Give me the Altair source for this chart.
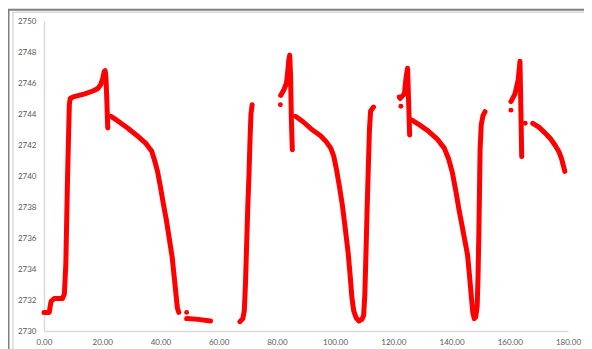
import altair as alt
import pandas as pd

# ---- data (x: time, y: value) ----
seg1_x = [0.0, 1.8, 2.4, 3.5, 6.4, 7.0, 7.5, 8.1, 8.7, 9.0, 10.0, 14.0, 17.0, 18.5, 19.5, 20.2, 20.7, 21.0, 21.3, 21.6, 21.9]
seg1_y = [2731.2, 2731.2, 2731.9, 2732.1, 2732.1, 2732.4, 2734.3, 2740.0, 2744.6, 2745.0, 2745.1, 2745.3, 2745.5, 2745.65, 2745.9, 2746.3, 2746.75, 2746.8, 2746.3, 2744.8, 2743.1]
seg2_x = [23.0, 25.0, 28.7, 32.0, 35.0, 37.0, 38.0, 39.0, 40.0, 41.0, 42.0, 43.0, 44.0, 45.0, 45.8, 46.3]
seg2_y = [2743.85, 2743.6, 2743.1, 2742.6, 2742.1, 2741.6, 2741.0, 2740.3, 2739.3, 2738.2, 2737.2, 2736.0, 2734.8, 2733.0, 2731.5, 2731.2]
seg3_x = [49.0, 53.0, 57.2]
seg3_y = [2730.8, 2730.75, 2730.65]
seg4_x = [67.3, 68.3, 68.8, 69.2, 69.6, 70.0, 70.4, 70.8, 71.1, 71.5]
seg4_y = [2730.6, 2730.8, 2731.3, 2733.0, 2735.5, 2738.0, 2740.0, 2742.5, 2744.0, 2744.6]
seg5_x = [81.3, 82.5, 83.3, 83.7, 84.1, 84.4, 84.7, 85.0, 85.3]
seg5_y = [2745.2, 2745.6, 2746.0, 2746.7, 2747.5, 2747.8, 2746.5, 2743.5, 2741.7]
seg6_x = [86.4, 89.0, 92.0, 95.0, 97.0, 98.5, 99.5, 100.5, 101.5, 102.5, 103.5, 104.5, 105.2, 105.8, 106.4, 107.2, 108.2, 109.2, 109.8, 110.2, 110.6, 111.0, 111.4, 111.8, 112.2, 113.2]
seg6_y = [2743.85, 2743.5, 2743.0, 2742.6, 2742.2, 2741.8, 2741.3, 2740.4, 2739.3, 2738.1, 2736.6, 2735.0, 2733.5, 2732.1, 2731.3, 2730.85, 2730.65, 2730.75, 2731.0, 2732.3, 2735.0, 2737.9, 2740.5, 2743.0, 2744.2, 2744.45]
seg7_x = [122.3, 123.8, 124.4, 124.9, 125.3, 125.6]
seg7_y = [2745.0, 2745.3, 2746.4, 2746.95, 2744.5, 2742.65]
seg8_x = [126.4, 129.0, 132.0, 135.0, 137.5, 139.0, 140.3, 141.5, 142.5, 143.5, 144.5, 145.5, 146.2, 146.8, 147.3, 147.8, 148.3, 148.8, 149.1, 149.4, 149.6, 149.8, 150.2, 150.8, 151.5]
seg8_y = [2743.6, 2743.3, 2742.9, 2742.4, 2741.8, 2741.1, 2740.2, 2739.0, 2737.9, 2736.9, 2735.9, 2734.9, 2733.5, 2732.2, 2731.2, 2730.8, 2730.9, 2731.6, 2733.5, 2736.5, 2739.0, 2741.7, 2743.3, 2743.9, 2744.15]
seg9_x = [160.4, 161.8, 162.9, 163.5, 163.8, 164.1]
seg9_y = [2744.8, 2745.3, 2746.2, 2747.4, 2744.5, 2741.25]
seg10_x = [167.9, 170.0, 172.0, 174.0, 175.5, 176.8, 177.8, 178.5, 178.9]
seg10_y = [2743.4, 2743.15, 2742.8, 2742.4, 2742.0, 2741.6, 2741.1, 2740.6, 2740.3]

dot_x = [49.0, 81.2, 122.0, 122.6, 160.4, 165.3]
dot_y = [2731.2, 2744.6, 2745.1, 2744.5, 2744.25, 2743.4]

y_ticks = [2730, 2732, 2734, 2736, 2738, 2740, 2742, 2744, 2746, 2748, 2750]
x_ticks = [0, 20, 40, 60, 80, 100, 120, 140, 160, 180]

segments = [
    (seg1_x, seg1_y), (seg2_x, seg2_y), (seg3_x, seg3_y), (seg4_x, seg4_y),
    (seg5_x, seg5_y), (seg6_x, seg6_y), (seg7_x, seg7_y), (seg8_x, seg8_y),
    (seg9_x, seg9_y), (seg10_x, seg10_y),
]
rows = []
for s, (xs, ys) in enumerate(segments):
    for i, (xv, yv) in enumerate(zip(xs, ys)):
        rows.append({"x": xv, "y": yv, "seg": s, "i": i})
line_df = pd.DataFrame(rows)
dot_df = pd.DataFrame({"x": dot_x, "y": dot_y})

RED = "#FF0000"
FONT = "Lato"

x_scale = alt.Scale(domain=[0, 180], nice=False)
y_scale = alt.Scale(domain=[2730, 2750], nice=False, zero=False)

x_axis = alt.Axis(values=x_ticks, format=".2f", title=None, grid=False, ticks=False,
                  domainColor="#d9d9d9", domainWidth=1.5, labelColor="#595959",
                  labelFont=FONT, labelFontSize=8, labelPadding=7,
                  labelOverlap=False, labelFlush=False)
y_axis = alt.Axis(values=y_ticks, format="d", title=None, grid=False, ticks=False,
                  domainColor="#d9d9d9", domainWidth=1.5, labelColor="#595959",
                  labelFont=FONT, labelFontSize=8, labelPadding=8,
                  labelOverlap=False, labelFlush=False)

lines = alt.Chart(line_df).mark_line(color=RED, strokeWidth=5, strokeCap="round", strokeJoin="round").encode(
    x=alt.X("x:Q", scale=x_scale, axis=x_axis),
    y=alt.Y("y:Q", scale=y_scale, axis=y_axis),
    detail="seg:N",
    order="i:Q",
)

dots = alt.Chart(dot_df).mark_circle(color=RED, size=24, opacity=1).encode(
    x=alt.X("x:Q", scale=x_scale, axis=x_axis),
    y=alt.Y("y:Q", scale=y_scale, axis=y_axis),
)

frame_df = pd.DataFrame({"a": [0]})
outer_top = alt.Chart(frame_df).mark_rule(color="#7f7f7f", strokeWidth=2).encode(
    x=alt.value(-36), x2=alt.value(548), y=alt.value(-11.3))
outer_left = alt.Chart(frame_df).mark_rule(color="#7f7f7f", strokeWidth=2).encode(
    x=alt.value(-35.5), y=alt.value(-12), y2=alt.value(345))
inner = alt.Chart(frame_df).mark_rect(fillOpacity=0, stroke="#d9d9d9", strokeWidth=1.5).encode(
    x=alt.value(-31), x2=alt.value(545.5), y=alt.value(-8.7), y2=alt.value(345))

chart = alt.layer(inner, outer_top, outer_left, lines, dots).properties(
    width=524, height=310,
    autosize=alt.AutoSizeParams(type="none"),
    padding={"left": 36, "top": 13, "right": 16, "bottom": 30},
    background="white",
).configure_view(strokeWidth=0).configure_axis(labelOverlap=False, labelFlush=False)

chart.save("out.html", embed_options={"renderer": "svg", "actions": False})
